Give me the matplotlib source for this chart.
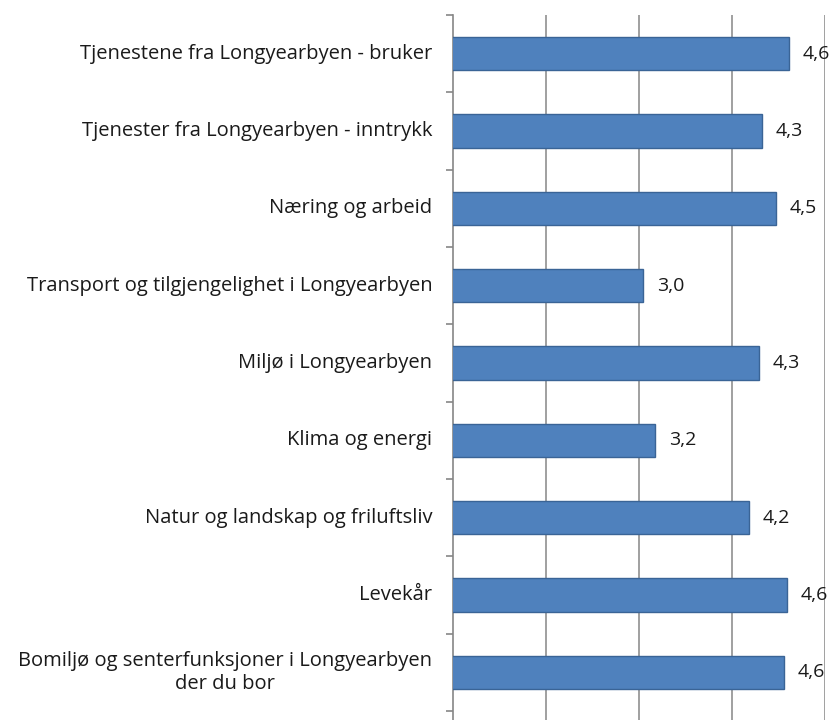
import matplotlib.pyplot as plt
import numpy as np

categories = [
    "Tjenestene fra Longyearbyen - bruker",
    "Tjenester fra Longyearbyen - inntrykk",
    "Næring og arbeid",
    "Transport og tilgjengelighet i Longyearbyen",
    "Miljø i Longyearbyen",
    "Klima og energi",
    "Natur og landskap og friluftsliv",
    "Levekår",
    "Bomiljø og senterfunksjoner i Longyearbyen\nder du bor",
]
values = [4.61, 4.32, 4.47, 3.04, 4.29, 3.17, 4.18, 4.59, 4.56]
value_labels = ["4,6", "4,3", "4,5", "3,0", "4,3", "3,2", "4,2", "4,6", "4,6"]

plt.rcParams['font.family'] = ['Open Sans', 'DejaVu Sans']

fig = plt.figure(figsize=(8.36, 7.2), dpi=100)
ax = fig.add_axes([453 / 836, 0.0, (825 - 453) / 836, 1 - 15 / 720])

y = np.arange(len(categories))
ax.barh(y, values, height=0.43, color='#4F81BD', edgecolor='#3A6496', linewidth=1.0, zorder=3)

# categories fill 15..711 px, the axis carries on to the bottom of the image
extra = (720 - 711) / ((711 - 15) / 9)
ax.set_ylim(len(categories) - 0.5 + extra, -0.5)
ax.set_xlim(1, 5)

# value labels
for yi, v, lab in zip(y, values, value_labels):
    ax.annotate(lab, xy=(v, yi), xytext=(10, 0), textcoords='offset points',
                va='center', ha='left', fontsize=14, color='#1a1a1a', annotation_clip=False)

# category labels, centred lines, right aligned to the axis
ax.set_yticks(y)
ax.set_yticklabels([])
ax.tick_params(axis='y', which='major', length=0)
for yi, c in zip(y, categories):
    ax.annotate(c, xy=(0, yi), xycoords=('axes fraction', 'data'), xytext=(-15, 0),
                textcoords='offset points', ha='right', va='center', fontsize=14.5,
                color='#1a1a1a', multialignment='center')

ax.set_yticks(np.arange(-0.5, len(categories)), minor=True)
ax.tick_params(axis='y', which='minor', length=5, color='#868686', width=1.2, direction='out')

ax.set_xticks([2, 3, 4, 5])
ax.tick_params(axis='x', length=0, labelbottom=False)
ax.grid(axis='x', color='#868686', linewidth=1.1, zorder=0)

for s in ['top', 'right', 'bottom']:
    ax.spines[s].set_visible(False)
ax.spines['left'].set_color('#868686')
ax.spines['left'].set_linewidth(1.2)

fig.savefig('out.png', dpi=100)
